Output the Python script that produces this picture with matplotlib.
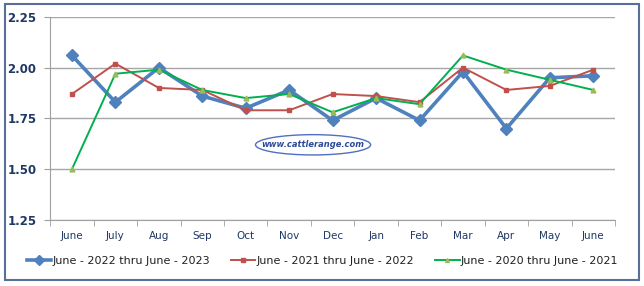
import numpy as np
import matplotlib
matplotlib.use("Agg")
import matplotlib.pyplot as plt
from matplotlib.patches import Rectangle, Ellipse

months = ["June", "July", "Aug", "Sep", "Oct", "Nov", "Dec",
          "Jan", "Feb", "Mar", "Apr", "May", "June"]
s2023 = [2.06, 1.83, 2.00, 1.86, 1.80, 1.89, 1.74, 1.85, 1.74, 1.98, 1.70, 1.95, 1.96]
s2022 = [1.87, 2.02, 1.90, 1.89, 1.79, 1.79, 1.87, 1.86, 1.83, 2.00, 1.89, 1.91, 1.99]
s2021 = [1.50, 1.97, 1.99, 1.89, 1.85, 1.87, 1.78, 1.85, 1.82, 2.06, 1.99, 1.94, 1.89]
yticks = [1.25, 1.50, 1.75, 2.00, 2.25]

fig = plt.figure(figsize=(6.44, 2.86), dpi=100)
ax = fig.add_axes([0.078, 0.231, 0.877, 0.71])

x = np.arange(len(months))
ax.plot(x, s2023, color="#4F81BD", lw=2.6, marker="D", ms=6,
        label="June - 2022 thru June - 2023", zorder=3)
ax.plot(x, s2022, color="#C0504D", lw=1.4, marker="s", ms=3.5,
        label="June - 2021 thru June - 2022", zorder=4)
ax.plot(x, s2021, color="#00B050", lw=1.4, marker="^", ms=3.5,
        mfc="#9BBB59", mec="#9BBB59",
        label="June - 2020 thru June - 2021", zorder=5)

ax.set_xlim(-0.5, len(months) - 0.5)
ax.set_ylim(1.25, 2.25)
ax.set_yticks(yticks)
ax.set_yticklabels(["%.2f" % v for v in yticks], fontweight="bold",
                   color="#1F3864", fontsize=8.5)
ax.set_xticks(x)
ax.set_xticklabels(months, color="#1F3864", fontsize=7.5)
ax.set_xticks(np.arange(-0.5, len(months)), minor=True)
ax.tick_params(axis="x", which="major", length=0, pad=8)
ax.tick_params(axis="x", which="minor", length=4, color="#A0A0A0")
ax.tick_params(axis="y", length=4, color="#A0A0A0", pad=6)
ax.grid(axis="y", color="#A6A6A6", lw=1)
ax.set_axisbelow(True)
for side in ["top", "right"]:
    ax.spines[side].set_visible(False)
for side in ["left", "bottom"]:
    ax.spines[side].set_color("#A0A0A0")

# watermark
ax.add_patch(Ellipse((5.55, 1.62), 2.65, 0.1, fill=False,
                     edgecolor="#4F6FC0", lw=1, zorder=6))
ax.text(5.55, 1.62, "www.cattlerange.com", ha="center", va="center",
        fontsize=6, color="#2E4A9A", style="italic", fontweight="bold", zorder=6)

ax.legend(loc="center", bbox_to_anchor=(0.482, -0.2), ncol=3, frameon=False,
          fontsize=8, handlelength=2.2, handletextpad=0.1, columnspacing=1.9,
          markerscale=0.8, labelcolor="#202020")

fig.patches.append(Rectangle((0.007, 0.02), 0.985, 0.965, transform=fig.transFigure,
                             fill=False, edgecolor="#5A6E9A", lw=1.5))

fig.savefig("out.png", dpi=100)
